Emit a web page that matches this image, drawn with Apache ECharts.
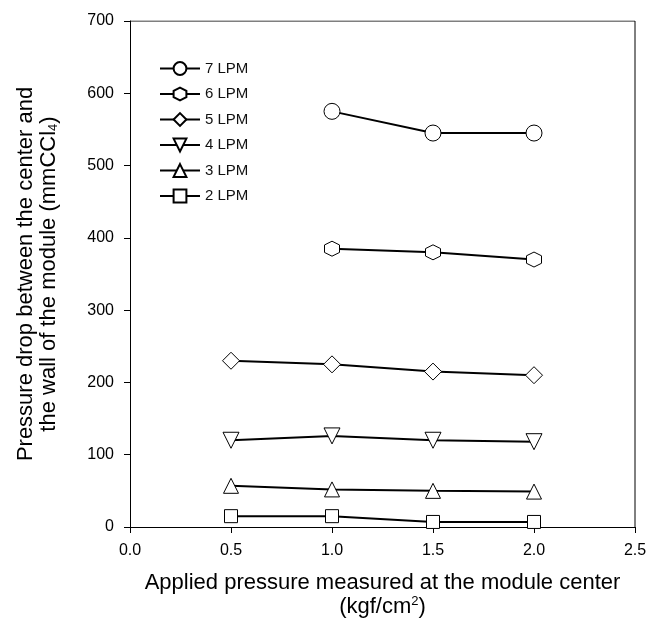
<!DOCTYPE html>
<html>
<head>
<meta charset="utf-8">
<script src="https://cdn.jsdelivr.net/npm/echarts@6/dist/echarts.min.js"></script>
<style>
  html, body { margin: 0; padding: 0; background: #fff; }
  #main { width: 650px; height: 634px; }
</style>
</head>
<body>
<div id="main"></div>
<script>
// 数据
var seriesNames = ['7 LPM', '6 LPM', '5 LPM', '4 LPM', '3 LPM', '2 LPM'];
var lpm7 = [[1.0, 575], [1.5, 545], [2.0, 545]];
var lpm6 = [[1.0, 385], [1.5, 380], [2.0, 370]];
var lpm5 = [[0.5, 230], [1.0, 225], [1.5, 215], [2.0, 210]];
var lpm4 = [[0.5, 120], [1.0, 126], [1.5, 120], [2.0, 118]];
var lpm3 = [[0.5, 57], [1.0, 52], [1.5, 50], [2.0, 49]];
var lpm2 = [[0.5, 15], [1.0, 15], [1.5, 7], [2.0, 7]];

var hexagon = 'path://M5,0 L9.33,2.5 L9.33,7.5 L5,10 L0.67,7.5 L0.67,2.5 Z';
var downTri = 'path://M0,0 L10,0 L5,8.66 Z';

var chart = echarts.init(document.getElementById('main'));

function mkSeries(name, data, symbol, size) {
  return {
    name: name,
    type: 'line',
    data: data,
    symbol: symbol,
    symbolSize: size,
    showAllSymbol: true,
    z: 3,
    lineStyle: { color: '#000', width: 2 },
    itemStyle: { color: '#fff', borderColor: '#000', borderWidth: 1 }
  };
}

var option = {
  backgroundColor: '#fff',
  animation: false,
  textStyle: { fontFamily: 'Liberation Sans, Arial, sans-serif', color: '#000' },
  grid: { left: 130, right: 15, top: 21, bottom: 107 },
  legend: {
    data: seriesNames,
    orient: 'vertical',
    left: 154,
    top: 56,
    itemGap: 10.5,
    itemWidth: 40,
    itemHeight: 16,
    textStyle: { fontSize: 15, color: '#111' }
  },
  xAxis: {
    type: 'value',
    min: 0,
    max: 2.5,
    interval: 0.5,
    name: 'Applied pressure measured at the module center\n(kgf/cm{sup|2})',
    nameLocation: 'middle',
    nameGap: 44,
    nameTextStyle: {
      fontSize: 22, color: '#000', lineHeight: 24,
      rich: { sup: { fontSize: 13, verticalAlign: 'top', padding: [0, 0, 10, 0], color: '#000' } }
    },
    axisLine: { show: true, onZero: false, lineStyle: { color: '#000', width: 1 } },
    axisTick: { show: true, inside: false, length: 6, lineStyle: { color: '#000' } },
    axisLabel: { fontSize: 16, color: '#000', margin: 16, formatter: function (v) { return v.toFixed(1); } },
    splitLine: { show: false }
  },
  yAxis: {
    type: 'value',
    min: 0,
    max: 700,
    interval: 100,
    name: 'Pressure drop between the center and\nthe wall of the module (mmCCl{sub|4})',
    nameLocation: 'middle',
    nameGap: 70,
    nameTextStyle: {
      fontSize: 22, color: '#000', lineHeight: 23,
      rich: { sub: { fontSize: 13, verticalAlign: 'bottom', padding: [10, 0, 0, 0], color: '#000' } }
    },
    axisLine: { show: true, lineStyle: { color: '#000', width: 1 } },
    axisTick: { show: true, inside: false, length: 6, lineStyle: { color: '#000' } },
    axisLabel: { fontSize: 16, color: '#000', margin: 16 },
    splitLine: { show: false }
  },
  series: [
    mkSeries('7 LPM', lpm7, 'circle', 16),
    mkSeries('6 LPM', lpm6, hexagon, 15),
    mkSeries('5 LPM', lpm5, 'diamond', 17),
    mkSeries('4 LPM', lpm4, downTri, 16),
    mkSeries('3 LPM', lpm3, 'triangle', 15),
    mkSeries('2 LPM', lpm2, 'rect', 13),
    {
      // 上/右边框
      type: 'line',
      data: [[0, 700], [2.5, 700], [2.5, 0]],
      symbol: 'none',
      silent: true,
      lineStyle: { color: '#000', width: 1 },
      z: 1
    }
  ]
};
chart.setOption(option);
</script>
</body>
</html>
